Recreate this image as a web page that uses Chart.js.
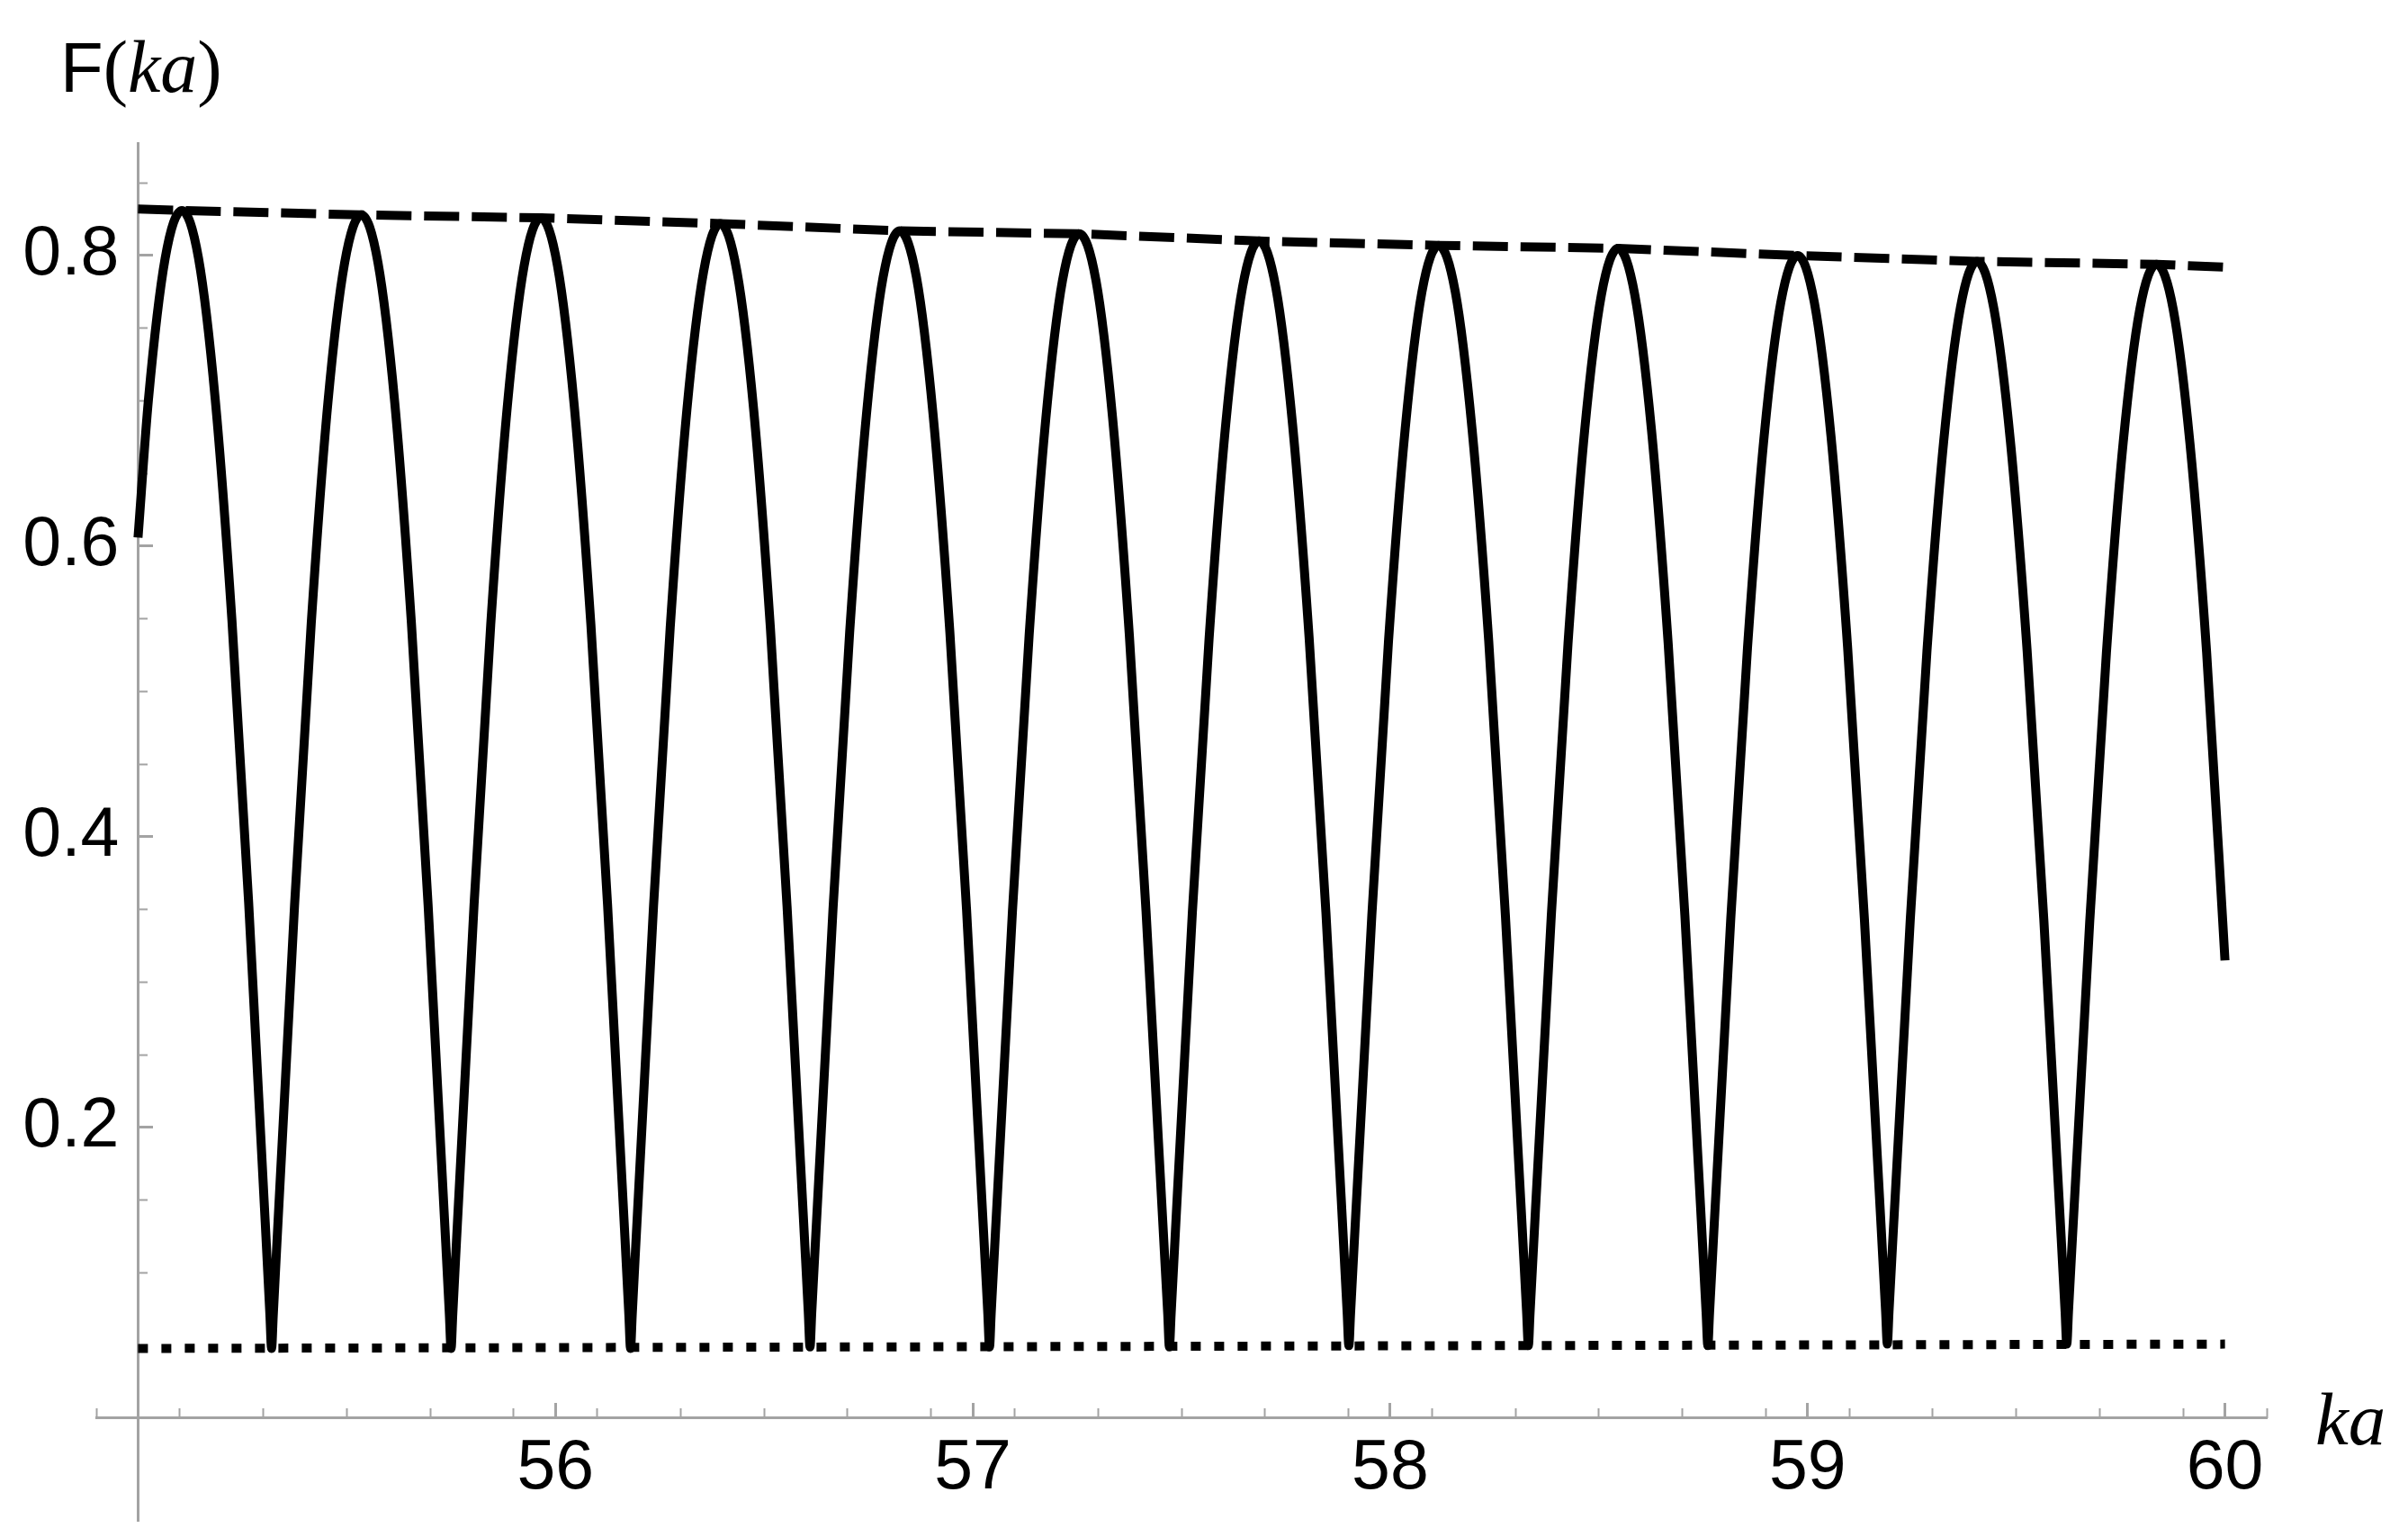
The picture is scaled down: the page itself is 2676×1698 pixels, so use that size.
<!DOCTYPE html>
<html>
<head>
<meta charset="utf-8">
<title>F(ka)</title>
<script src="https://cdn.jsdelivr.net/npm/chart.js@4.4.1/dist/chart.umd.min.js"></script>
<style>
  html, body { margin: 0; padding: 0; background: #ffffff; }
  canvas { display: block; }
</style>
</head>
<body>
<canvas id="plot" width="2676" height="1698"></canvas>
<script>
// solid curve F(ka) (peaks, flanks, cusps)
var curveKa = [
  55.000, 55.025, 55.065, 55.105, 55.145, 55.185, 55.225, 55.265, 55.316, 55.320,
  55.324, 55.375, 55.415, 55.455, 55.495, 55.535, 55.575, 55.615, 55.655, 55.695, 55.746, 55.750,
  55.754, 55.805, 55.845, 55.885, 55.925, 55.965, 56.005, 56.045, 56.085, 56.125, 56.176, 56.180,
  56.184, 56.235, 56.275, 56.315, 56.355, 56.395, 56.435, 56.475, 56.515, 56.555, 56.606, 56.610,
  56.614, 56.665, 56.705, 56.745, 56.785, 56.825, 56.865, 56.905, 56.945, 56.985, 57.036, 57.040,
  57.044, 57.095, 57.135, 57.175, 57.215, 57.255, 57.295, 57.335, 57.375, 57.415, 57.467, 57.471,
  57.475, 57.526, 57.566, 57.606, 57.646, 57.686, 57.726, 57.766, 57.806, 57.846, 57.897, 57.901,
  57.905, 57.956, 57.996, 58.036, 58.076, 58.116, 58.156, 58.196, 58.236, 58.276, 58.327, 58.331,
  58.335, 58.386, 58.426, 58.466, 58.506, 58.546, 58.586, 58.626, 58.666, 58.706, 58.757, 58.761,
  58.765, 58.816, 58.856, 58.896, 58.936, 58.976, 59.016, 59.056, 59.096, 59.136, 59.187, 59.191,
  59.195, 59.246, 59.286, 59.326, 59.366, 59.406, 59.446, 59.486, 59.526, 59.566, 59.617, 59.621,
  59.625, 59.676, 59.716, 59.756, 59.796, 59.836, 59.876, 59.916, 59.956, 60.000
];
var curveF = [
  0.606, 0.701, 0.798, 0.831, 0.798, 0.701, 0.549, 0.355, 0.071, 0.048,
  0.071, 0.353, 0.547, 0.699, 0.795, 0.828, 0.795, 0.699, 0.547, 0.353, 0.071, 0.048,
  0.071, 0.353, 0.546, 0.697, 0.793, 0.826, 0.793, 0.697, 0.546, 0.353, 0.071, 0.048,
  0.071, 0.352, 0.544, 0.694, 0.789, 0.822, 0.789, 0.694, 0.544, 0.352, 0.072, 0.049,
  0.072, 0.350, 0.541, 0.690, 0.785, 0.817, 0.785, 0.690, 0.541, 0.350, 0.072, 0.049,
  0.072, 0.349, 0.539, 0.688, 0.783, 0.815, 0.783, 0.688, 0.539, 0.349, 0.072, 0.049,
  0.071, 0.348, 0.536, 0.684, 0.778, 0.810, 0.778, 0.684, 0.536, 0.348, 0.072, 0.050,
  0.072, 0.346, 0.535, 0.681, 0.775, 0.807, 0.775, 0.681, 0.535, 0.346, 0.072, 0.050,
  0.072, 0.346, 0.533, 0.680, 0.773, 0.805, 0.773, 0.680, 0.533, 0.346, 0.072, 0.050,
  0.072, 0.344, 0.530, 0.676, 0.768, 0.800, 0.768, 0.676, 0.530, 0.344, 0.073, 0.051,
  0.073, 0.343, 0.528, 0.672, 0.764, 0.796, 0.764, 0.672, 0.528, 0.343, 0.073, 0.051,
  0.073, 0.342, 0.527, 0.671, 0.763, 0.794, 0.763, 0.671, 0.527, 0.315
];

// dashed upper envelope (through the maxima)
var upperKa = [55.0, 55.105, 55.535, 55.965, 56.395, 56.825, 57.255, 57.686, 58.116, 58.546, 58.976, 59.406, 59.836, 60.0];
var upperF  = [0.832, 0.831, 0.828, 0.826, 0.822, 0.817, 0.815, 0.810, 0.807, 0.805, 0.800, 0.796, 0.794, 0.792];

// dotted lower envelope (through the minima)
var lowerKa = [55.0, 60.0];
var lowerF  = [0.048, 0.051];

// axes ranges, the axes cross at (55, 0)
var kaMin = 54.9, kaMax = 60.1;
var fMin = -0.0706, fMax = 0.8774;
var kaCross = 55, fCross = 0;

function pairs(xs, ys) {
  return xs.map(function (x, i) { return { x: x, y: ys[i] }; });
}

// centred axes should not eat into the plot area
function noPadding(scale) {
  scale.paddingLeft = 0;
  scale.paddingRight = 0;
  scale.paddingTop = 0;
  scale.paddingBottom = 0;
}

Chart.defaults.font.family = "'Liberation Sans', Arial, Helvetica, sans-serif";
Chart.defaults.color = "#000000";

var AXIS_GREY = "#a3a3a3";
var NONE = "rgba(0,0,0,0)";

// Mathematica style labels: upright F, italic ka
var mathLabels = {
  id: "mathLabels",
  afterDraw: function (chart) {
    var c = chart.ctx;
    var area = chart.chartArea;
    var y0 = chart.scales.y.getPixelForValue(fCross);
    c.save();
    c.fillStyle = "#000000";
    c.textBaseline = "alphabetic";
    c.textAlign = "left";
    var parts = [
      ["F", "78px 'Liberation Sans'"],
      ["(", "82px 'Liberation Serif'"],
      ["ka", "italic 82px 'Liberation Serif'"],
      [")", "82px 'Liberation Serif'"]
    ];
    var x = 67;
    parts.forEach(function (p) {
      c.font = p[1];
      c.fillText(p[0], x, 102);
      x += c.measureText(p[0]).width;
    });
    c.font = "italic 83px 'Liberation Serif'";
    c.fillText("ka", area.right + 54, y0 + 29);
    c.restore();
  }
};

var chart = new Chart(document.getElementById("plot").getContext("2d"), {
  type: "line",
  data: {
    datasets: [
      {
        label: "F(ka)",
        data: pairs(curveKa, curveF),
        borderColor: "#000000",
        borderWidth: 10,
        pointRadius: 0,
        cubicInterpolationMode: "monotone",
        fill: false
      },
      {
        label: "upper",
        data: pairs(upperKa, upperF),
        borderColor: "#000000",
        borderWidth: 10,
        borderDash: [39, 14],
        pointRadius: 0,
        tension: 0,
        fill: false
      },
      {
        label: "lower",
        data: pairs(lowerKa, lowerF),
        borderColor: "#000000",
        borderWidth: 10,
        borderDash: [11, 15],
        pointRadius: 0,
        tension: 0,
        fill: false
      }
    ]
  },
  options: {
    responsive: false,
    animation: false,
    layout: { padding: { left: 107, right: 157, top: 159, bottom: 8 } },
    plugins: {
      legend: { display: false },
      tooltip: { enabled: false },
      title: { display: false }
    },
    scales: {
      x: {
        type: "linear",
        min: kaMin, max: kaMax,
        position: { y: fCross },
        afterFit: noPadding,
        ticks: {
          stepSize: 1,
          includeBounds: false,
          autoSkip: false,
          maxRotation: 0,
          padding: 29,
          font: { size: 77 },
          callback: function (v) { return v === kaCross ? "" : String(v); }
        },
        grid: {
          drawOnChartArea: false,
          tickLength: -18,
          tickWidth: 3,
          tickColor: function (ctx) { return ctx.tick && ctx.tick.value === kaCross ? NONE : AXIS_GREY; }
        },
        border: { color: AXIS_GREY, width: 3 }
      },
      xMinor: {
        type: "linear",
        axis: "x",
        min: kaMin, max: kaMax,
        position: { y: fCross },
        afterFit: noPadding,
        ticks: { stepSize: 0.2, includeBounds: false, autoSkip: false, display: false },
        grid: {
          drawOnChartArea: false,
          tickLength: -11,
          tickWidth: 2,
          tickColor: function (ctx) { return ctx.tick && Math.abs(ctx.tick.value - kaCross) < 0.01 ? NONE : AXIS_GREY; }
        },
        border: { display: false }
      },
      y: {
        type: "linear",
        min: fMin, max: fMax,
        position: { x: kaCross },
        afterFit: noPadding,
        ticks: { stepSize: 0.2, includeBounds: false, autoSkip: false, display: false },
        grid: {
          drawOnChartArea: false,
          tickLength: -18,
          tickWidth: 3,
          tickColor: function (ctx) { return ctx.tick && ctx.tick.value < 0.01 ? NONE : AXIS_GREY; }
        },
        border: { color: AXIS_GREY, width: 3 }
      },
      yMinor: {
        type: "linear",
        axis: "y",
        min: fMin, max: fMax,
        position: { x: kaCross },
        afterFit: noPadding,
        ticks: { stepSize: 0.05, includeBounds: false, autoSkip: false, display: false },
        grid: {
          drawOnChartArea: false,
          tickLength: -11,
          tickWidth: 2,
          tickColor: function (ctx) { return ctx.tick && ctx.tick.value < 0.01 ? NONE : AXIS_GREY; }
        },
        border: { display: false }
      },
      // tick labels of the vertical axis, set a little left of the axis line
      yLabels: {
        type: "linear",
        axis: "y",
        min: fMin, max: fMax,
        position: { x: kaCross - 0.0453 },
        afterFit: noPadding,
        ticks: {
          stepSize: 0.2,
          includeBounds: false,
          autoSkip: false,
          padding: 0,
          font: { size: 77 },
          callback: function (v) { return v < 0.01 ? "" : v.toFixed(1); }
        },
        grid: { drawOnChartArea: false, drawTicks: false },
        border: { display: false }
      }
    }
  },
  plugins: [mathLabels]
});
</script>
</body>
</html>
